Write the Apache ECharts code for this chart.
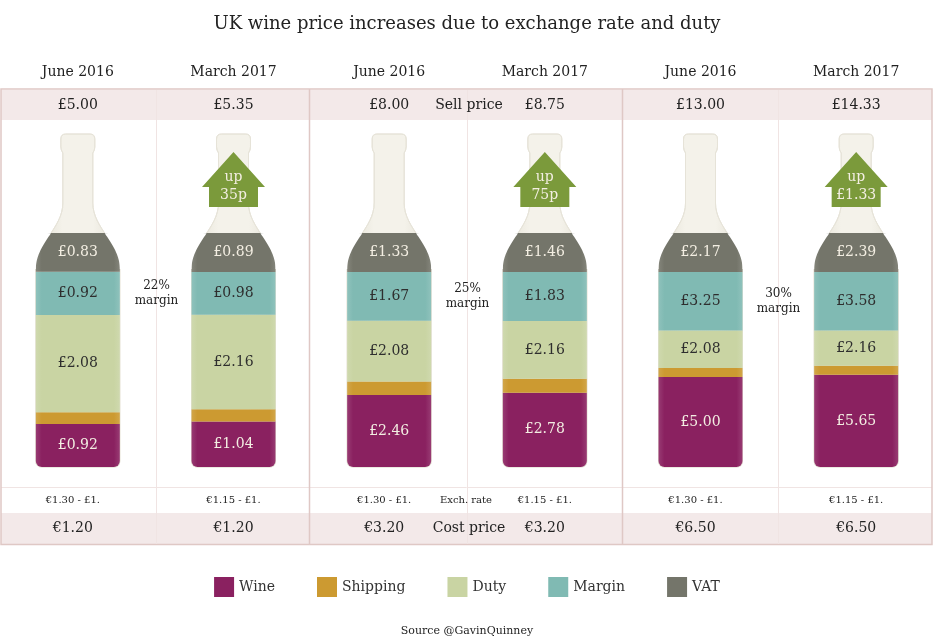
<!DOCTYPE html>
<html lang="en">
<head>
<meta charset="UTF-8">
<title>UK wine price increases due to exchange rate and duty</title>
<script src="https://cdn.jsdelivr.net/npm/echarts@6/dist/echarts.min.js"></script>
<style>body { margin: 0; background: #fff; }</style>
</head>
<body>
<div id="main" style="width: 934px;height:643px;"></div>
<script type="text/javascript">
// data (pounds per bottle)
var periods = ['June 2016', 'March 2017', 'June 2016', 'March 2017', 'June 2016', 'March 2017'];
var wine = [0.92, 1.04, 2.46, 2.78, 5.00, 5.65];
var shipping = [0.25, 0.28, 0.46, 0.52, 0.50, 0.55];
var duty = [2.08, 2.16, 2.08, 2.16, 2.08, 2.16];
var margin = [0.92, 0.98, 1.67, 1.83, 3.25, 3.58];
var vat = [0.83, 0.89, 1.33, 1.46, 2.17, 2.39];
var sellPrice = ['£5.00', '£5.35', '£8.00', '£8.75', '£13.00', '£14.33'];
var exchRate = ['€1.30 - £1.', '€1.15 - £1.', '€1.30 - £1.', '€1.15 - £1.', '€1.30 - £1.', '€1.15 - £1.'];
var costPrice = ['€1.20', '€1.20', '€3.20', '€3.20', '€6.50', '€6.50'];
var marginPct = ['22%', '25%', '30%'];
var increase = ['', 'up\n35p', '', 'up\n75p', '', 'up\n£1.33'];

var serif = '"DejaVu Serif", Georgia, serif';
var myChart = echarts.init(document.getElementById('main'));

// each bottle is filled to the same height, so stack shares of the sell price
var totals = wine.map(function (v, i) { return v + shipping[i] + duty[i] + margin[i] + vat[i]; });
function share(arr) { return arr.map(function (v, i) { return v / totals[i] * 100; }); }

var partNames = ['Wine', 'Shipping', 'Duty', 'Margin', 'VAT'];
var partValues = [wine, shipping, duty, margin, vat];
var partColors = ['#8a2160', '#cc9a31', '#c9d4a3', '#80bab3', '#74756a'];
var labelColors = ['#f3eee2', null, '#2e2e2e', '#2e2e2e', '#f3eee2'];

// slightly darker sides so the glass looks round
function glass(c) {
    var edge = echarts.color.lift(c, 0.12);
    return new echarts.graphic.LinearGradient(0, 0, 1, 0, [
        { offset: 0, color: edge },
        { offset: 0.07, color: c },
        { offset: 0.93, color: c },
        { offset: 1, color: edge }
    ]);
}

var barSeries = partNames.map(function (name, k) {
    return {
        name: name,
        type: 'bar',
        stack: 'bottle',
        barWidth: 84,
        z: 2,
        data: share(partValues[k]),
        itemStyle: { color: glass(partColors[k]), borderRadius: k === 0 ? [0, 0, 6, 6] : 0 },
        label: {
            show: labelColors[k] !== null,
            position: 'inside',
            color: labelColors[k],
            fontFamily: serif,
            fontSize: 14,
            formatter: function (p) { return '£' + partValues[k][p.dataIndex].toFixed(2); }
        },
        emphasis: { disabled: true }
    };
});

// shoulder curve, offsets from bottle centre / fill top
var SH = [[15, -30], [15, -5], [42, 10], [42, 36]];
function shoulder(t) {
    var u = 1 - t;
    var w = [u * u * u, 3 * u * u * t, 3 * u * t * t, t * t * t];
    return [
        w[0] * SH[0][0] + w[1] * SH[1][0] + w[2] * SH[2][0] + w[3] * SH[3][0],
        w[0] * SH[0][1] + w[1] * SH[1][1] + w[2] * SH[2][1] + w[3] * SH[3][1]
    ];
}

function bottlePath(cx, yt, yb) {
    var lipTop = yt - 99, lipBot = yt - 83;
    var p = [];
    p.push('M', cx - 17, lipTop + 5);
    p.push('Q', cx - 17, lipTop, cx - 12, lipTop);
    p.push('L', cx + 12, lipTop);
    p.push('Q', cx + 17, lipTop, cx + 17, lipTop + 5);
    p.push('L', cx + 17, lipBot - 3);
    p.push('Q', cx + 17, lipBot, cx + 15, lipBot + 3);
    p.push('L', cx + SH[0][0], yt + SH[0][1]);
    p.push('C', cx + SH[1][0], yt + SH[1][1], cx + SH[2][0], yt + SH[2][1], cx + SH[3][0], yt + SH[3][1]);
    p.push('L', cx + 42, yb - 6);
    p.push('Q', cx + 42, yb, cx + 36, yb);
    p.push('L', cx - 36, yb);
    p.push('Q', cx - 42, yb, cx - 42, yb - 6);
    p.push('L', cx - SH[3][0], yt + SH[3][1]);
    p.push('C', cx - SH[2][0], yt + SH[2][1], cx - SH[1][0], yt + SH[1][1], cx - SH[0][0], yt + SH[0][1]);
    p.push('L', cx - 15, lipBot + 3);
    p.push('Q', cx - 17, lipBot, cx - 17, lipBot - 3);
    p.push('Z');
    return p.join(' ');
}

function renderBottle(params, api) {
    var top = api.coord([api.value(0), 100]);
    var bot = api.coord([api.value(0), 0]);
    return {
        type: 'path',
        shape: { pathData: bottlePath(top[0], top[1], bot[1]) },
        style: {
            fill: new echarts.graphic.LinearGradient(0, 0, 1, 0, [
                { offset: 0, color: '#e2dfd3' },
                { offset: 0.32, color: '#f4f2ea' },
                { offset: 0.68, color: '#f4f2ea' },
                { offset: 1, color: '#e2dfd3' }
            ]),
            stroke: '#e6e3d8',
            lineWidth: 1
        }
    };
}

// white corners outside the shoulder + the green "up" arrows
function renderOverlay(params, api) {
    var i = api.value(0);
    var top = api.coord([i, 100]);
    var cx = top[0], yt = top[1];
    var children = [];
    [1, -1].forEach(function (side) {
        var pts = [[cx + side * 45, yt - 1]];
        for (var t = 0; t <= 1.0001; t += 0.02) {
            var s = shoulder(t);
            if (s[1] >= -1) pts.push([cx + side * s[0], yt + s[1]]);
        }
        pts.push([cx + side * 45, yt + SH[3][1]]);
        children.push({ type: 'polygon', shape: { points: pts }, style: { fill: '#ffffff' } });
    });
    if (increase[i]) {
        children.push({
            type: 'polygon',
            shape: { points: [[cx, yt - 81], [cx + 31.5, yt - 46], [cx + 24.5, yt - 46], [cx + 24.5, yt - 26],
                [cx - 24.5, yt - 26], [cx - 24.5, yt - 46], [cx - 31.5, yt - 46]] },
            style: { fill: '#7b9a3b' }
        });
        children.push({
            type: 'text',
            style: {
                text: increase[i], x: cx, y: yt - 47,
                align: 'center', verticalAlign: 'middle', textAlign: 'center', textVerticalAlign: 'middle',
                font: '14px ' + serif, fill: '#f3eee2', lineHeight: 18
            }
        });
    }
    return { type: 'group', children: children };
}

var idx = periods.map(function (p, i) { return [i, 100]; });

var option = {
    animation: false,
    title: {
        text: 'UK wine price increases due to exchange rate and duty',
        left: 'center',
        top: 10,
        textStyle: { fontFamily: serif, fontSize: 18, fontWeight: 'normal', color: '#222' }
    },
    legend: {
        data: partNames.map(function (n, k) { return { name: n, itemStyle: { color: partColors[k] } }; }),
        left: 'center',
        top: 572,
        icon: 'rect',
        itemWidth: 20,
        itemHeight: 20,
        itemGap: 42,
        selectedMode: false,
        textStyle: { fontFamily: serif, fontSize: 14, color: '#333' }
    },
    grid: { left: 0, right: 0, top: 233, bottom: 176 },
    xAxis: { type: 'category', data: periods, show: false },
    yAxis: { type: 'value', min: 0, max: 100, show: false },
    series: [
        { type: 'custom', name: 'bottle', z: 1, silent: true, data: idx, renderItem: renderBottle }
    ].concat(barSeries).concat([
        { type: 'custom', name: 'overlay', z: 3, silent: true, data: idx, renderItem: renderOverlay }
    ])
};
myChart.setOption(option);

// table frame and texts, placed on the bottle centres
var cx = periods.map(function (p, i) { return myChart.convertToPixel({ xAxisIndex: 0 }, i); });
function txt(s, x, y, size, color) {
    return {
        type: 'text', z: 5, silent: true,
        style: {
            text: s, x: x, y: y, align: 'center', verticalAlign: 'middle',
            textAlign: 'center', textVerticalAlign: 'middle',
            font: size + 'px ' + serif, fill: color || '#222', lineHeight: size + 3
        }
    };
}
var lineCol = '#f0e4e3', frameCol = '#dfc8c5', pink = '#f3e9e9';
var gfx = [
    { type: 'rect', shape: { x: 1, y: 90, width: 931, height: 30 }, style: { fill: pink } },
    { type: 'rect', shape: { x: 1, y: 513, width: 931, height: 31 }, style: { fill: pink } },
    { type: 'line', shape: { x1: 1, y1: 487.5, x2: 932, y2: 487.5 }, style: { stroke: lineCol, lineWidth: 1 } },
    { type: 'rect', shape: { x: 1, y: 89, width: 931, height: 455.5 }, style: { fill: null, stroke: frameCol, lineWidth: 1.5 } },
    { type: 'line', shape: { x1: 309.5, y1: 89, x2: 309.5, y2: 544.5 }, style: { stroke: frameCol, lineWidth: 1.5 } },
    { type: 'line', shape: { x1: 622.5, y1: 89, x2: 622.5, y2: 544.5 }, style: { stroke: frameCol, lineWidth: 1.5 } }
];
for (var g = 0; g < 3; g++) {
    var a = 2 * g, b = 2 * g + 1;
    var mx = Math.round((cx[a] + cx[b]) / 2) + 0.5;
    gfx.push({ type: 'line', shape: { x1: mx, y1: 90, x2: mx, y2: 544 }, style: { stroke: lineCol, lineWidth: 1 } });
    // margin note sits at the middle of the margin band
    var mid = 0;
    [a, b].forEach(function (i) {
        mid += (wine[i] + shipping[i] + duty[i] + margin[i] / 2) / totals[i] * 100 / 2;
    });
    var my = myChart.convertToPixel({ yAxisIndex: 0 }, mid);
    gfx.push(txt(marginPct[g] + '\nmargin', mx, my, 12, '#222'));
}
periods.forEach(function (p, i) {
    // the June cost figures sit a little left of the bottle centre
    var dx = i % 2 === 0 ? -5 : 0;
    gfx.push(txt(p, cx[i], 72, 14));
    gfx.push(txt(sellPrice[i], cx[i], 105, 14));
    gfx.push(txt(exchRate[i], cx[i] + dx, 500, 10));
    gfx.push(txt(costPrice[i], cx[i] + dx, 528, 14));
});
gfx.push(txt('Sell price', 469, 105, 14));
gfx.push(txt('Exch. rate', 466, 500, 10));
gfx.push(txt('Cost price', 469, 528, 14));
gfx.push(txt('Source @GavinQuinney', 467, 631, 11));

myChart.setOption({ graphic: gfx });
</script>
</body>
</html>
